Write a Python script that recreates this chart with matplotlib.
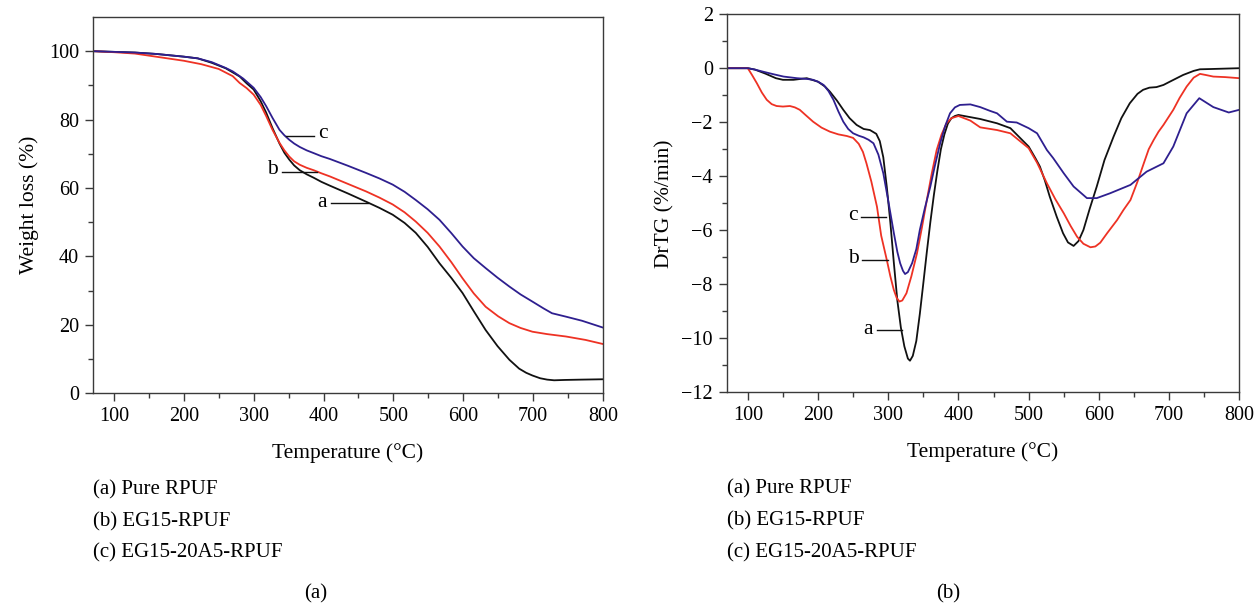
import numpy as np
import matplotlib
matplotlib.use('Agg')
import matplotlib.pyplot as plt

# ---- TG curves (left panel): temperature (°C) vs weight (%)
tg_t_a = [70, 100, 130, 160, 200, 220, 240, 260, 280, 290, 300, 310, 318, 327, 337, 344, 351, 358, 366, 376, 386, 397, 409,
          435, 461, 480, 499, 516, 532, 549, 566, 583, 599, 615, 632, 649, 666, 680, 690, 699, 710, 720, 730, 745, 770, 800]
tg_a = [100, 99.8, 99.6, 99.2, 98.4, 97.9, 96.6, 95.0, 92.6, 90.6, 88.8, 85.4, 82.0, 77.5, 73.0, 70.3, 68.3, 66.6, 65.2, 64.0, 63.0, 61.8, 60.7,
        58.4, 56.0, 54.2, 52.2, 49.8, 46.9, 42.8, 38.0, 33.7, 29.3, 24.0, 18.5, 13.8, 9.8, 7.2, 6.0, 5.2, 4.4, 4.0, 3.8, 3.9, 4.0, 4.1]

tg_t_b = [70, 100, 130, 160, 200, 225, 250, 270, 280, 290, 300, 310, 318, 327, 337, 344, 351, 358, 366, 376, 386, 397, 409,
          435, 461, 480, 499, 516, 532, 549, 566, 583, 599, 615, 632, 650, 666, 682, 699, 720, 747, 775, 800]
tg_b = [100, 99.7, 99.3, 98.4, 97.2, 96.2, 94.8, 92.7, 90.7, 89.2, 87.3, 84.3, 81.0, 77.0, 73.2, 71.0, 69.2, 67.8, 66.8, 65.9, 65.2, 64.3, 63.4,
        61.2, 59.0, 57.2, 55.2, 52.9, 50.2, 46.9, 42.9, 38.3, 33.6, 29.2, 25.3, 22.5, 20.5, 19.1, 18.0, 17.3, 16.6, 15.6, 14.4]

tg_t_c = [70, 100, 130, 160, 200, 220, 240, 260, 270, 285, 300, 310, 318, 327, 337, 344, 351, 358, 366, 376, 386, 397, 409,
          435, 461, 480, 499, 516, 532, 549, 566, 583, 599, 615, 632, 649, 666, 682, 699, 715, 727, 747, 770, 800]
tg_c = [100, 99.8, 99.6, 99.2, 98.4, 97.9, 96.8, 95.1, 94.1, 92.0, 89.3, 86.6, 83.9, 80.5, 77.0, 75.4, 74.1, 73.0, 72.0, 71.0, 70.2, 69.3, 68.5,
        66.5, 64.4, 62.8, 61.0, 58.9, 56.5, 53.8, 50.7, 46.8, 42.9, 39.5, 36.6, 33.8, 31.2, 28.9, 26.8, 24.8, 23.4, 22.4, 21.2, 19.2]

# ---- DrTG curves (right panel): temperature (°C) vs rate (%/min)
dtg_t_a = [70, 100, 110, 125, 140, 150, 165, 184, 200, 210, 217, 227, 236, 245, 255, 265, 274, 283, 288, 293, 298, 303, 308, 313, 318,
           323, 328, 331, 335, 340, 345, 350, 355, 360, 365, 370, 375, 380, 385, 390, 395, 400,
           431, 455, 474, 500, 510, 516, 523, 530, 540, 549, 556, 564, 571, 578, 587, 597, 608, 621, 632, 644, 655, 663, 672, 682,
           692, 701, 720, 735, 744, 760, 800]
dtg_a = [0, 0, -0.05, -0.2, -0.37, -0.43, -0.43, -0.37, -0.5, -0.68, -0.87, -1.2, -1.54, -1.85, -2.1, -2.25, -2.29, -2.43, -2.7, -3.3, -4.4, -5.7, -7.2, -8.6, -9.6,
         -10.3, -10.75, -10.83, -10.65, -10.1, -9.1, -7.96, -6.8, -5.7, -4.7, -3.8, -3.0, -2.45, -2.05, -1.85, -1.77, -1.73,
         -1.88, -2.04, -2.22, -2.9, -3.35, -3.64, -4.15, -4.75, -5.5, -6.11, -6.45, -6.58, -6.4, -5.99, -5.2, -4.38, -3.4, -2.53, -1.85, -1.3, -0.95, -0.8, -0.72, -0.70,
         -0.62, -0.5, -0.25, -0.1, -0.04, -0.03, 0.0]

dtg_t_b = [70, 100, 106, 113, 120, 127, 134, 141, 150, 160, 167, 174, 183, 193, 205, 217, 229, 241, 250, 258, 264, 269, 276, 284,
           290, 298, 303, 308, 312, 316, 320, 326, 333, 341, 348, 355, 362, 369, 376, 383, 390, 400,
           417, 431, 455, 474, 500, 512, 526, 538, 550, 560, 569, 578, 588, 595, 602, 612, 626, 635, 645, 655, 664, 671, 678, 685,
           692, 699, 706, 715, 725, 735, 744, 752, 763, 780, 800]
dtg_b = [0, 0, -0.25, -0.56, -0.9, -1.17, -1.33, -1.40, -1.42, -1.40, -1.45, -1.54, -1.75, -1.98, -2.2, -2.35, -2.45, -2.51, -2.58, -2.8, -3.1, -3.52, -4.2, -5.13,
         -6.2, -7.1, -7.7, -8.21, -8.5, -8.64, -8.6, -8.33, -7.7, -6.85, -5.9, -4.88, -3.9, -3.03, -2.45, -2.04, -1.85, -1.77,
         -1.94, -2.19, -2.29, -2.41, -2.96, -3.5, -4.26, -4.85, -5.37, -5.85, -6.24, -6.5, -6.63, -6.6, -6.46, -6.1, -5.62, -5.25, -4.88, -4.2, -3.52, -3.0, -2.66, -2.35,
         -2.1, -1.82, -1.54, -1.1, -0.68, -0.35, -0.21, -0.25, -0.31, -0.33, -0.37]

dtg_t_c = [70, 100, 110, 122, 136, 151, 170, 185, 193, 200, 208, 215, 222, 229, 236, 243, 250, 258, 265, 272, 279, 286, 293,
           300, 308, 313, 317, 321, 324, 328, 334, 340, 345, 352, 360, 367, 374, 381, 388, 395, 402,
           417, 431, 445, 455, 469, 483, 500, 512, 526, 535, 550, 564, 583, 597, 616, 645, 668, 692, 706, 725, 743, 763, 785, 800]
dtg_c = [0, 0, -0.05, -0.13, -0.22, -0.31, -0.37, -0.4, -0.43, -0.5, -0.62, -0.85, -1.17, -1.6, -1.98, -2.25, -2.41, -2.5, -2.56, -2.65, -2.78, -3.2, -3.89,
         -4.9, -6.1, -6.8, -7.22, -7.5, -7.62, -7.55, -7.22, -6.7, -5.99, -5.2, -4.38, -3.55, -2.78, -2.15, -1.67, -1.45, -1.36,
         -1.34, -1.44, -1.58, -1.67, -1.98, -2.01, -2.22, -2.41, -3.03, -3.33, -3.89, -4.38, -4.81, -4.81, -4.63, -4.32, -3.83, -3.52, -2.9, -1.67, -1.11, -1.44, -1.64, -1.54]

legend_items = ['(a) Pure RPUF', '(b) EG15-RPUF', '(c) EG15-20A5-RPUF']
panel_labels = ['(a)', '(b)']

BLACK = '#111111'
RED = '#ee3224'
BLUE = '#2e1f8f'
FRAME = '#3a3a3a'

plt.rcParams['font.family'] = 'Liberation Serif'
plt.rcParams['lines.solid_joinstyle'] = 'round'

fig = plt.figure(figsize=(12.56, 6.06), dpi=100)
ax1 = fig.add_axes([0.0740, 0.351, 0.4061, 0.621])
ax2 = fig.add_axes([0.5786, 0.3526, 0.4081, 0.624])


def style_axis(ax):
    for s in ax.spines.values():
        s.set_color(FRAME)
        s.set_linewidth(1.0)
    ax.tick_params(which='major', direction='out', length=6, width=1, color=FRAME, labelsize=14.5, pad=4)
    ax.tick_params(which='minor', direction='out', length=3.5, width=1, color=FRAME)
    ax.set_xlim(70, 800)
    ax.set_xticks([100, 200, 300, 400, 500, 600, 700, 800])
    ax.set_xticks(np.arange(150, 800, 100), minor=True)
    ax.set_xlabel('Temperature (°C)', fontsize=15.5, labelpad=12)


# left: TG
ax1.plot(tg_t_a, tg_a, color=BLACK, lw=1.3)
ax1.plot(tg_t_b, tg_b, color=RED, lw=1.3)
ax1.plot(tg_t_c, tg_c, color=BLUE, lw=1.3)
style_axis(ax1)
ax1.set_ylim(0, 110)
ax1.set_yticks([0, 20, 40, 60, 80, 100])
ax1.set_yticks(np.arange(10, 110, 20), minor=True)
ax1.set_ylabel('Weight loss (%)', fontsize=15.5, labelpad=7)

ax1.plot([347, 387], [75.3, 75.3], color=BLACK, lw=1)
ax1.text(392, 75.8, 'c', fontsize=15.5, va='center', ha='left')
ax1.plot([340, 390], [64.8, 64.8], color=BLACK, lw=1)
ax1.text(334, 65.3, 'b', fontsize=15.5, va='center', ha='right')
ax1.plot([411, 463], [55.7, 55.7], color=BLACK, lw=1)
ax1.text(405, 55.7, 'a', fontsize=15.5, va='center', ha='right')

# right: DrTG
ax2.plot(dtg_t_a, dtg_a, color=BLACK, lw=1.3)
ax2.plot(dtg_t_b, dtg_b, color=RED, lw=1.3)
ax2.plot(dtg_t_c, dtg_c, color=BLUE, lw=1.3)
style_axis(ax2)
ax2.set_ylim(-12, 2)
ax2.set_yticks(np.arange(-12, 3, 2))
ax2.set_yticklabels(['\u221212', '\u221210', '\u22128', '\u22126', '\u22124', '\u22122', '0', '2'])
ax2.set_yticks(np.arange(-11, 2, 2), minor=True)
ax2.set_ylabel('DrTG (%/min)', fontsize=15.5, labelpad=5)

ax2.plot([261, 297], [-5.5, -5.5], color=BLACK, lw=1)
ax2.text(256, -5.45, 'c', fontsize=15.5, va='center', ha='right')
ax2.plot([263, 299], [-7.1, -7.1], color=BLACK, lw=1)
ax2.text(258, -7.05, 'b', fontsize=15.5, va='center', ha='right')
ax2.plot([284, 319], [-9.69, -9.69], color=BLACK, lw=1)
ax2.text(278, -9.69, 'a', fontsize=15.5, va='center', ha='right')

# captions below each panel
for i, item in enumerate(legend_items):
    fig.text(93 / 1256, 1 - (490 + 31.5 * i) / 606, item, fontsize=15, va='center', ha='left')
    fig.text(727 / 1256, 1 - (489 + 32 * i) / 606, item, fontsize=15, va='center', ha='left')
fig.text(316 / 1256, 1 - 594 / 606, panel_labels[0], fontsize=15, va='center', ha='center')
fig.text(948 / 1256, 1 - 594 / 606, panel_labels[1], fontsize=15, va='center', ha='center')

fig.savefig('out.png', dpi=100)
